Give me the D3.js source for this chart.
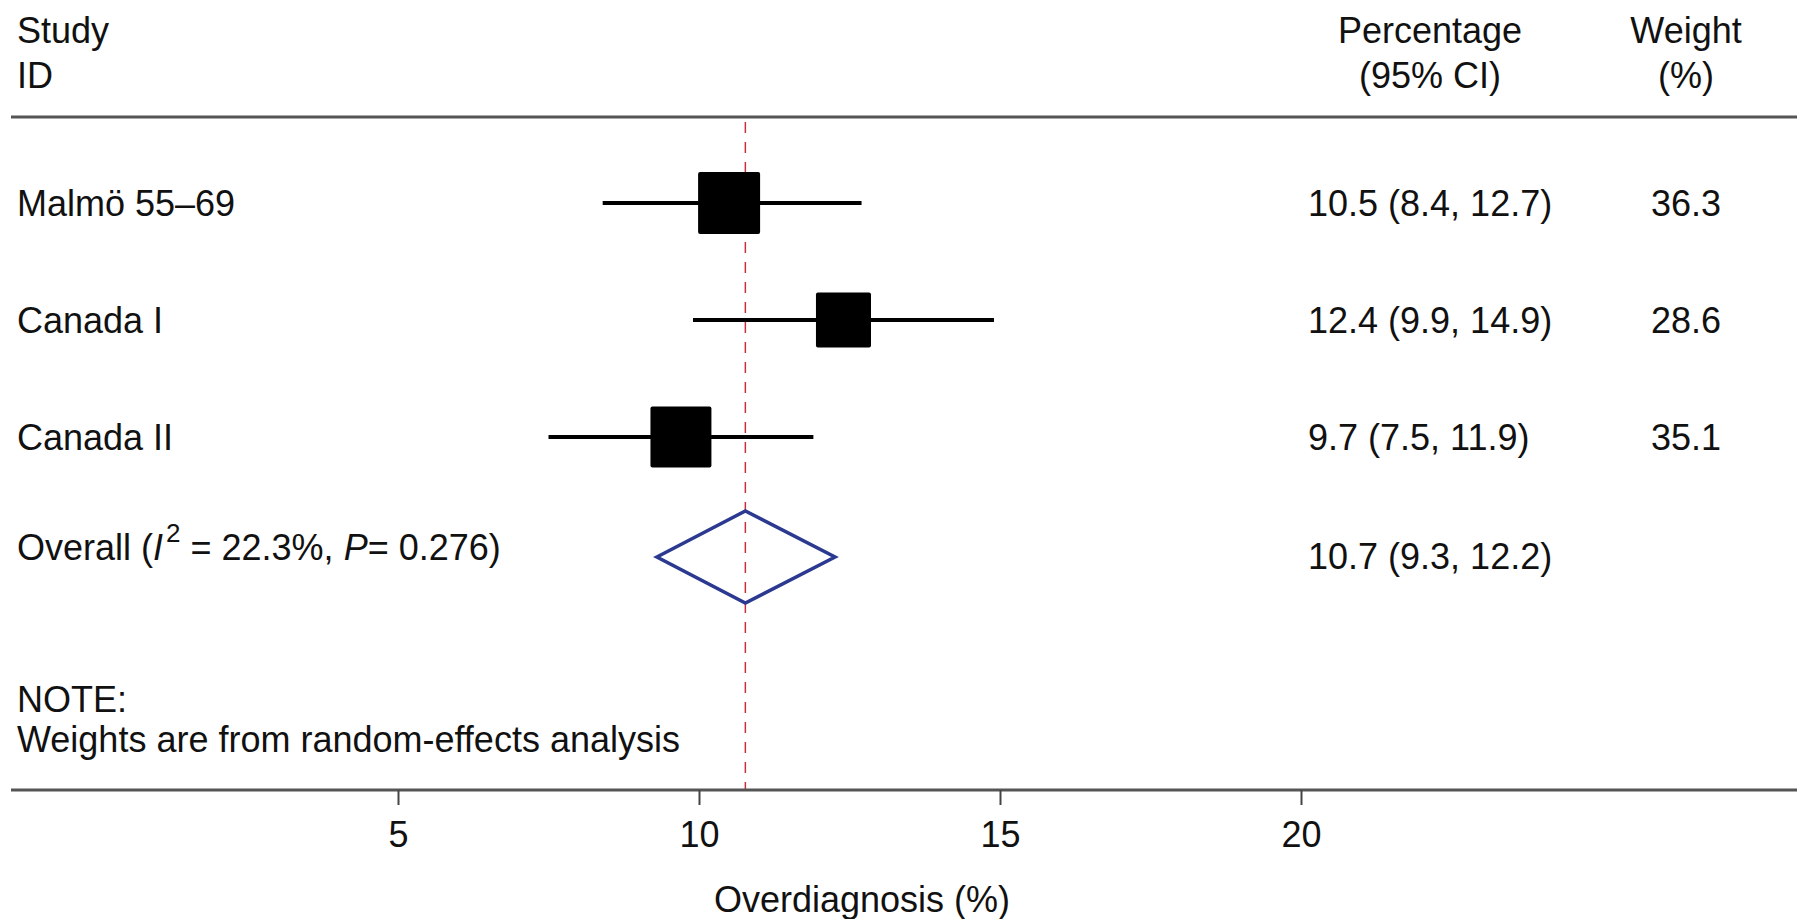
<!DOCTYPE html>
<html lang="en">
<head>
    <meta charset="UTF-8">
    <script src="https://cdn.jsdelivr.net/npm/d3@7"></script>
    <title>Overdiagnosis forest plot</title>
    <style>
        body {
            margin: 0;
            background: white;
        }
        svg text {
            font-family: "Liberation Sans", Arial, Helvetica, sans-serif;
            font-size: 36px;
            fill: #111;
        }
    </style>
</head>
<body>
    <div id="chart"></div>

    <script>
        // data
        const studies = ["Malmö 55–69", "Canada I", "Canada II"];
        const estimates = [10.5, 12.4, 9.7];
        const lowerCI = [8.4, 9.9, 7.5];
        const upperCI = [12.7, 14.9, 11.9];
        const weights = [36.3, 28.6, 35.1];
        const ciLabels = ["10.5 (8.4, 12.7)", "12.4 (9.9, 14.9)", "9.7 (7.5, 11.9)", "10.7 (9.3, 12.2)"];
        const weightLabels = ["36.3", "28.6", "35.1"];
        const overallEst = 10.77;
        const overallCI = [9.3, 12.26];
        const xTicks = [5, 10, 15, 20];

        const width = 1797, height = 919;

        const svg = d3.select("#chart").append("svg")
            .attr("width", width)
            .attr("height", height);

        const x = d3.scaleLinear().domain([5, 20]).range([398, 1301]);
        const rows = [...studies, "Overall"];
        const y = d3.scalePoint().domain(rows).range([203, 554]);
        const boxSize = d3.scaleSqrt().domain([0, 36.3]).range([0, 62]);

        const tableData = studies.map((s, i) => ({
            study: s, est: estimates[i], lo: lowerCI[i], hi: upperCI[i], w: weights[i]
        }));

        // header
        svg.append("text").attr("x", 17).attr("y", 43).text("Study");
        svg.append("text").attr("x", 17).attr("y", 88).text("ID");
        svg.append("text").attr("x", 1430).attr("y", 43).attr("text-anchor", "middle").text("Percentage");
        svg.append("text").attr("x", 1430).attr("y", 88).attr("text-anchor", "middle").text("(95% CI)");
        svg.append("text").attr("x", 1686).attr("y", 43).attr("text-anchor", "middle").text("Weight");
        svg.append("text").attr("x", 1686).attr("y", 88).attr("text-anchor", "middle").text("(%)");

        svg.append("line")
            .attr("x1", 11).attr("x2", width)
            .attr("y1", 117).attr("y2", 117)
            .attr("stroke", "#555").attr("stroke-width", 3);

        // pooled estimate reference line
        svg.append("line")
            .attr("x1", x(overallEst)).attr("x2", x(overallEst))
            .attr("y1", 122).attr("y2", 790)
            .attr("stroke", "#c8303c")
            .attr("stroke-width", 1.5)
            .attr("stroke-dasharray", "11,9");

        // study rows
        const rowG = svg.selectAll(".study")
            .data(tableData)
            .enter()
            .append("g")
            .attr("class", "study");

        rowG.append("line")
            .attr("x1", d => x(d.lo)).attr("x2", d => x(d.hi))
            .attr("y1", d => y(d.study)).attr("y2", d => y(d.study))
            .attr("stroke", "black").attr("stroke-width", 4);

        rowG.append("rect")
            .attr("x", d => x(d.est) - boxSize(d.w) / 2)
            .attr("y", d => y(d.study) - boxSize(d.w) / 2)
            .attr("width", d => boxSize(d.w))
            .attr("height", d => boxSize(d.w))
            .attr("rx", 2)
            .attr("fill", "black");

        rowG.append("text")
            .attr("x", 17)
            .attr("y", d => y(d.study) + 13)
            .text(d => d.study);

        rowG.append("text")
            .attr("x", 1308)
            .attr("y", d => y(d.study) + 13)
            .text((d, i) => ciLabels[i]);

        rowG.append("text")
            .attr("x", 1651)
            .attr("y", d => y(d.study) + 13)
            .text((d, i) => weightLabels[i]);

        // overall row
        const yo = y("Overall") + 3;
        const diamondHalf = 46;
        svg.append("path")
            .attr("d", d3.line()([
                [x(overallCI[0]), yo],
                [x(overallEst), yo - diamondHalf],
                [x(overallCI[1]), yo],
                [x(overallEst), yo + diamondHalf]
            ]) + "Z")
            .attr("fill", "none")
            .attr("stroke", "#2b3990")
            .attr("stroke-width", 3.5)
            .attr("stroke-linejoin", "miter");

        const overallLabel = svg.append("text").attr("x", 17).attr("y", 560);
        overallLabel.append("tspan").text("Overall (");
        overallLabel.append("tspan").attr("font-style", "italic").text("I");
        overallLabel.append("tspan").attr("dy", -18).attr("dx", 3).style("font-size", "26px").text("2");
        overallLabel.append("tspan").attr("dy", 18).text(" = 22.3%, ");
        overallLabel.append("tspan").attr("font-style", "italic").text("P");
        overallLabel.append("tspan").text("= 0.276)");

        svg.append("text")
            .attr("x", 1308)
            .attr("y", 569)
            .text(ciLabels[3]);

        // note
        svg.append("text").attr("x", 17).attr("y", 712).text("NOTE:");
        svg.append("text").attr("x", 17).attr("y", 752).text("Weights are from random-effects analysis");

        // x axis
        svg.append("line")
            .attr("x1", 11).attr("x2", width)
            .attr("y1", 790).attr("y2", 790)
            .attr("stroke", "#555").attr("stroke-width", 3);

        const axis = svg.append("g")
            .attr("transform", "translate(0,790)")
            .call(d3.axisBottom(x).tickValues(xTicks).tickSize(15).tickPadding(16).tickFormat(d3.format("d")));
        axis.select(".domain").remove();
        axis.selectAll(".tick line").attr("stroke", "#444").attr("stroke-width", 2);
        axis.selectAll(".tick text")
            .attr("font-size", null)
            .attr("font-family", null)
            .attr("fill", "#111");

        svg.append("text")
            .attr("x", 862)
            .attr("y", 912)
            .attr("text-anchor", "middle")
            .text("Overdiagnosis (%)");
    </script>
</body>
</html>
